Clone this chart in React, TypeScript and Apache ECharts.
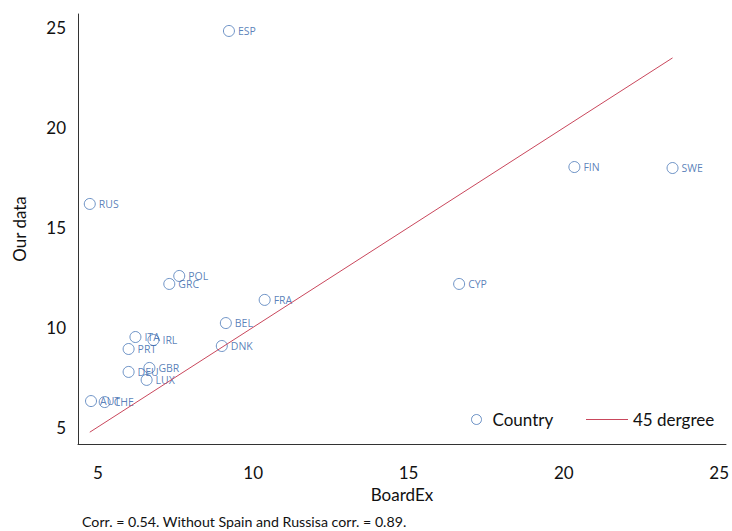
import React, { useEffect, useRef } from "react";
import * as echarts from "echarts";

const countries = ["ESP", "RUS", "FIN", "SWE", "CYP", "POL", "GRC", "FRA", "BEL", "DNK", "ITA", "IRL", "PRT", "GBR", "DEU", "LUX", "AUT", "CHE"];
const boardEx = [9.22, 4.74, 20.34, 23.5, 16.63, 7.62, 7.3, 10.37, 9.12, 8.99, 6.21, 6.79, 5.99, 6.66, 5.99, 6.57, 4.78, 5.22];
const ourData = [24.85, 16.18, 18.03, 17.98, 12.17, 12.57, 12.17, 11.37, 10.21, 9.06, 9.51, 9.36, 8.91, 7.96, 7.76, 7.36, 6.3, 6.25];
const tickValues = [5, 10, 15, 20, 25];
const lineEnds = [4.74, 23.5];

const FONT = "Lato, 'DejaVu Sans', sans-serif";

export default function App() {
  const ref = useRef<HTMLDivElement>(null);
  useEffect(() => {
    if (!ref.current) return;
    const chart = echarts.init(ref.current, undefined, { renderer: "svg" });
    const points = countries.map((c, i) => [boardEx[i], ourData[i], c]);
    chart.setOption({
      animation: false,
      backgroundColor: "#ffffff",
      textStyle: { fontFamily: FONT },
      grid: { left: 78, right: 0, top: 14, bottom: 87, containLabel: false },
      xAxis: {
        type: "value",
        min: 4.361,
        max: 25.22,
        name: "BoardEx",
        nameLocation: "middle",
        nameGap: 35,
        nameTextStyle: { fontSize: 17, color: "#111", fontFamily: FONT },
        axisLine: { show: true, onZero: false, lineStyle: { color: "#333", width: 1 } },
        axisTick: { show: false },
        splitLine: { show: false },
        axisLabel: { customValues: tickValues, fontSize: 17, color: "#111", margin: 20, fontFamily: FONT },
      },
      yAxis: {
        type: "value",
        min: 4.148,
        max: 25.7,
        name: "Our data",
        nameLocation: "middle",
        nameGap: 50,
        nameTextStyle: { fontSize: 17, color: "#111", fontFamily: FONT },
        axisLine: { show: true, onZero: false, lineStyle: { color: "#333", width: 1 } },
        axisTick: { show: false },
        splitLine: { show: false },
        axisLabel: { customValues: tickValues, fontSize: 17, color: "#111", margin: 12, fontFamily: FONT },
      },
      legend: [
        {
          data: [{ name: "Country", icon: "circle" }],
          left: 466,
          top: 406,
          itemWidth: 22,
          itemHeight: 10,
          itemStyle: { color: "#ffffff", borderColor: "#4a78b8", borderWidth: 1 },
          textStyle: { fontSize: 17, color: "#111", fontFamily: FONT },
        },
        {
          data: [{ name: "45 dergree", icon: "rect" }],
          left: 581,
          top: 406,
          itemWidth: 42,
          itemHeight: 1.2,
          textStyle: { fontSize: 17, color: "#111", fontFamily: FONT },
        },
      ],
      series: [
        {
          name: "Country",
          type: "scatter",
          symbol: "circle",
          symbolSize: 11,
          itemStyle: { color: "rgba(255,255,255,0)", borderColor: "#4a78b8", borderWidth: 1 },
          label: {
            show: true,
            position: "right",
            distance: 3,
            formatter: (p: any) => p.data[2],
            fontSize: 10.5,
            color: "#2f5fa8",
            fontFamily: "'Open Sans', 'Noto Sans', sans-serif",
          },
          data: points,
        },
        {
          name: "45 dergree",
          type: "line",
          showSymbol: false,
          symbol: "none",
          lineStyle: { color: "#c9475c", width: 1 },
          itemStyle: { color: "#c9475c" },
          data: lineEnds.map((v) => [v, v]),
        },
      ],
      graphic: [
        {
          type: "text",
          left: 82,
          top: 514,
          style: {
            text: "Corr. = 0.54. Without Spain and Russisa corr. = 0.89.",
            fontSize: 14.2,
            fill: "#111",
            fontFamily: FONT,
          },
        },
      ],
    });
    return () => chart.dispose();
  }, []);
  return <div ref={ref} style={{ position: "fixed", left: 0, top: 0, width: 732, height: 531 }} />;
}
